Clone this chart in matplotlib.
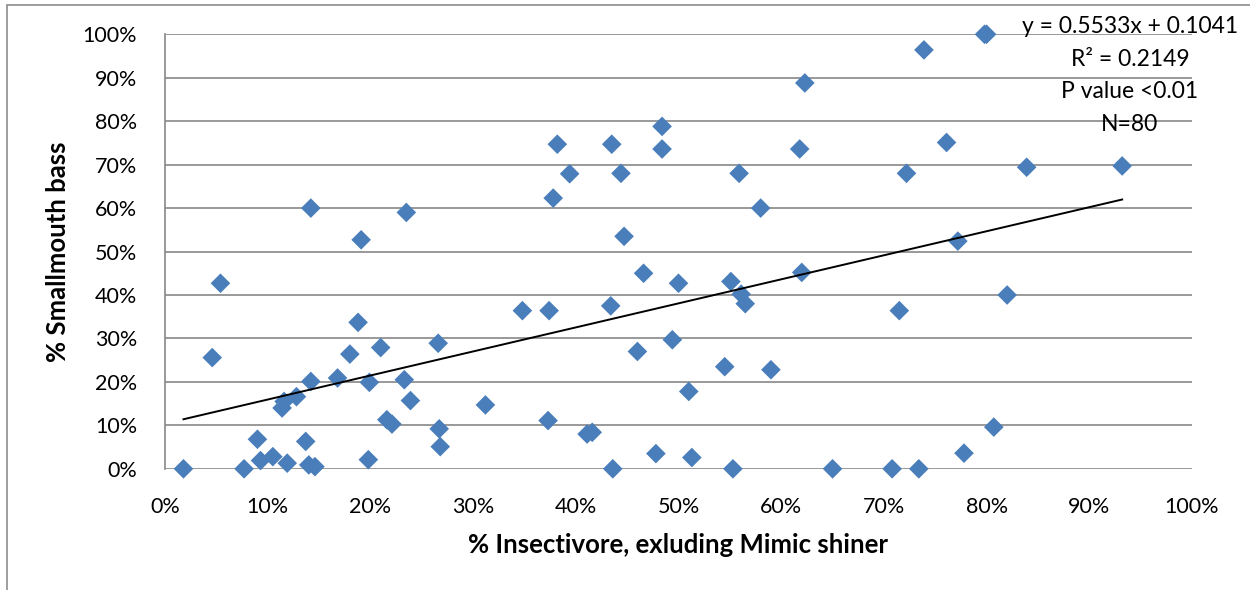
import matplotlib.pyplot as plt
from matplotlib.patches import Rectangle
from matplotlib.ticker import PercentFormatter, MultipleLocator

plt.rcParams['font.family'] = ['Lato', 'DejaVu Sans']

# % insectivore (excluding mimic shiner) and % smallmouth bass per site
insectivore = [1.8, 5.4, 4.6, 7.7, 9.0, 9.3, 10.5, 11.9, 11.4, 11.6,
               12.8, 13.7, 14.0, 14.6, 14.2, 16.8, 18.0, 18.8, 19.9, 19.8,
               21.0, 21.6, 22.1, 23.3, 23.9, 26.6, 26.7, 26.8, 31.2, 14.2,
               19.1, 23.5, 38.2, 39.4, 37.8, 43.5, 44.4, 44.7, 48.4, 48.4,
               55.9, 58.0, 61.8, 62.3, 34.8, 37.4, 43.4, 46.6, 50.0, 55.1,
               56.1, 56.5, 62.0, 49.4, 46.0, 54.5, 59.0, 51.0, 37.3, 41.1,
               41.6, 43.6, 47.8, 51.3, 55.3, 65.0, 71.5, 82.0, 70.8, 73.4,
               77.8, 80.7, 79.8, 80.0, 73.9, 76.1, 72.2, 83.9, 93.2, 77.2]
smallmouth = [0.0, 42.7, 25.6, 0.0, 6.8, 1.9, 2.8, 1.3, 14.0, 15.5,
              16.6, 6.3, 0.9, 0.5, 20.1, 20.9, 26.4, 33.7, 19.9, 2.1,
              27.9, 11.3, 10.3, 20.5, 15.7, 28.9, 9.2, 5.1, 14.7, 60.0,
              52.7, 59.0, 74.7, 67.9, 62.3, 74.7, 68.0, 53.5, 78.8, 73.6,
              68.0, 60.0, 73.6, 88.8, 36.4, 36.4, 37.5, 45.0, 42.7, 43.1,
              40.2, 38.0, 45.2, 29.7, 27.0, 23.5, 22.8, 17.8, 11.1, 8.0,
              8.4, 0.0, 3.5, 2.6, 0.0, 0.0, 36.4, 40.0, 0.0, 0.0,
              3.6, 9.6, 100.0, 100.0, 96.4, 75.1, 68.0, 69.4, 69.7, 52.4]

# linear fit reported on the chart
slope = 0.5533
intercept = 0.1041
fit_text = ['y = 0.5533x + 0.1041', 'R\u00b2 = 0.2149', 'P value <0.01', 'N=80']

fig = plt.figure(figsize=(12.5, 5.9), dpi=100)
ax = fig.add_axes([0.132, 0.2054, 0.8216, 0.7365])

grid_col = '#878787'
ax.scatter(insectivore, smallmouth, marker='D', s=100, color='#4a7ebb',
           edgecolors='none', zorder=3, clip_on=False)

# trendline from the fitted equation, over the range of the data
x0, x1 = min(insectivore), max(insectivore)
ax.plot([x0, x1], [(slope * x0 / 100 + intercept) * 100, (slope * x1 / 100 + intercept) * 100],
        color='black', lw=1.4, zorder=4)

ax.set_xlim(0, 100)
ax.set_ylim(0, 100)
ax.xaxis.set_major_locator(MultipleLocator(10))
ax.yaxis.set_major_locator(MultipleLocator(10))
ax.xaxis.set_major_formatter(PercentFormatter(decimals=0))
ax.yaxis.set_major_formatter(PercentFormatter(decimals=0))
ax.tick_params(length=0, labelsize=15.5, pad=20)
ax.grid(axis='y', color=grid_col, lw=1.2)
ax.set_axisbelow(True)
for side in ['top', 'right', 'bottom']:
    ax.spines[side].set_visible(False)
ax.spines['left'].set_color(grid_col)
ax.spines['left'].set_linewidth(1.2)

ax.set_xlabel('% Insectivore, exluding Mimic shiner', fontsize=18.5,
              fontweight='bold', labelpad=12)
ax.set_ylabel('% Smallmouth bass', fontsize=18.5, fontweight='bold', labelpad=9)

for i, line in enumerate(fit_text):
    ax.text(0.9396, 1.0168 - i * 0.0745, line, transform=ax.transAxes,
            ha='center', va='center', fontsize=16.5, zorder=5)

# outer chart frame
fig.patches.append(Rectangle((7 / 1250, -0.1), 2, 0.1 + 585 / 590,
                             transform=fig.transFigure, fill=False,
                             edgecolor='#8c8c8c', lw=1.2))

fig.savefig('out.png', dpi=100)
